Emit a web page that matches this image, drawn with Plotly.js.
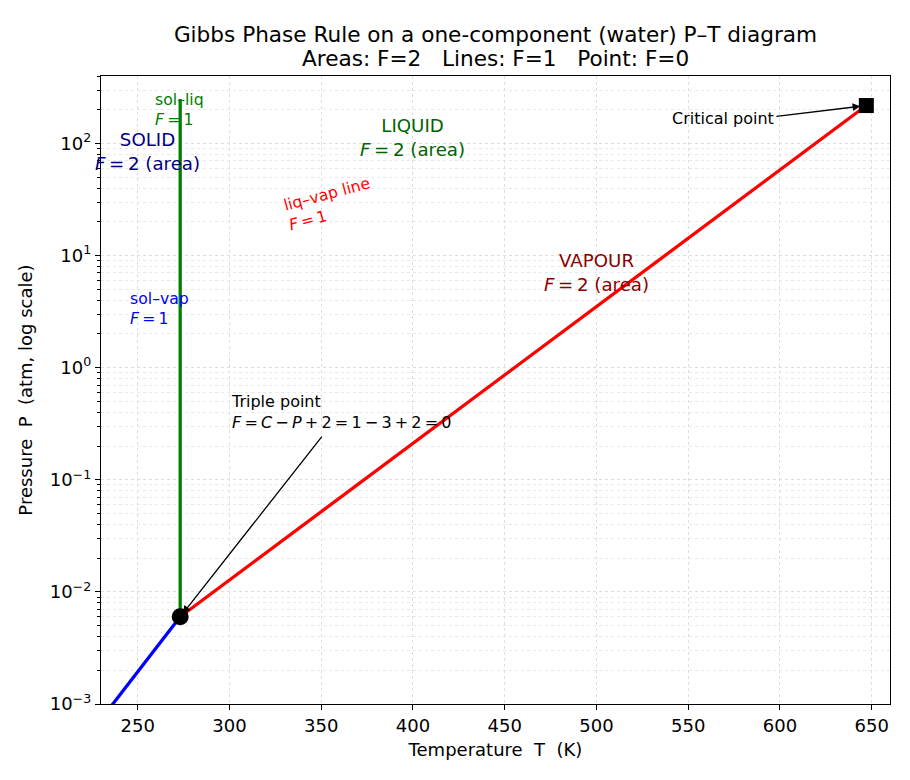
<!DOCTYPE html>
<html>
<head>
<meta charset="utf-8">
<script src="https://cdn.plot.ly/plotly-3.0.1.min.js"></script>
<style>html,body{margin:0;padding:0;background:#fff;}#chart{width:910px;height:780px;}</style>
</head>
<body>
<div id="chart"></div>
<script>
// ---- data ----
const solVapT = [230, 273.16];
const solVapP = [0.00073, 0.006];
const solLiqT = [273.16, 273.16];
const solLiqP = [0.006, 250];
const liqVapT = [273.16, 647.1];
const liqVapP = [0.006, 218];
const tripleT = [273.16];
const tripleP = [0.006];
const criticalT = [647.1];
const criticalP = [218];
const xTickVals = [250, 300, 350, 400, 450, 500, 550, 600, 650];
const yTickVals = [0.001, 0.01, 0.1, 1, 10, 100];
const yTickText = ['10<sup>\u22123</sup>', '10<sup>\u22122</sup>', '10<sup>\u22121</sup>', '10<sup>0</sup>', '10<sup>1</sup>', '10<sup>2</sup>'];

const FONT = 'DejaVu Sans, sans-serif';
const lg = Math.log10;
const S = '\u2009'; // thin space, like mathtext spacing

const traces = [
  {x: solVapT, y: solVapP, mode: 'lines', line: {color: '#0000ff', width: 3.3}, hoverinfo: 'skip'},
  {x: solLiqT, y: solLiqP, mode: 'lines', line: {color: '#008000', width: 3.3}, hoverinfo: 'skip'},
  {x: liqVapT, y: liqVapP, mode: 'lines', line: {color: '#ff0000', width: 3.3}, hoverinfo: 'skip'},
  {x: tripleT, y: tripleP, mode: 'markers', marker: {color: '#000', size: 17, symbol: 'circle'}, hoverinfo: 'skip'},
  {x: criticalT, y: criticalP, mode: 'markers', marker: {color: '#000', size: 15, symbol: 'square'}, hoverinfo: 'skip'}
];

function txt(x, y, text, color, size, extra) {
  return Object.assign({x: x, y: y, xref: 'x', yref: 'y', text: text, showarrow: false,
    font: {family: FONT, size: size, color: color}, xanchor: 'center', yanchor: 'middle', align: 'center'}, extra || {});
}
const F = (v) => '<i>F</i>' + S + '=' + S + v;

const annotations = [
  txt(258.3, 2.303, 'sol\u2013liq<br>' + F('1'), '#008000', 15.7, {xanchor: 'left', align: 'left'}),
  txt(255.1, 1.929, 'SOLID<br>' + F('2') + ' (area)', '#000080', 18.2),
  txt(400.0, 2.053, 'LIQUID<br>' + F('2') + ' (area)', '#006400', 18.2),
  txt(500.3, 0.850, 'VAPOUR<br>' + F('2') + ' (area)', '#8b0000', 18.2),
  txt(244.7, 0.525, 'sol\u2013vap<br>' + F('1'), '#0000ff', 15.7, {xanchor: 'left', align: 'left'}),
  txt(354.8, 1.465, 'liq\u2013vap line<br>' + F('1'), '#ff0000', 15.7, {align: 'left', textangle: -15}),
  txt(299.8, -0.397, 'Triple point<br><i>F</i>' + S + '=' + S + '<i>C</i>' + S + '\u2212' + S + '<i>P</i>' + S + '+' + S + '2' + S + '=' + S + '1' + S + '\u2212' + S + '3' + S + '+' + S + '2' + S + '=' + S + '0', '#000', 16, {xanchor: 'left', align: 'left'}),
  txt(540.1, 2.223, 'Critical point', '#000', 16, {xanchor: 'left', align: 'left'}),
  // second title line (paper coords are relative to the plot area: 101..890 x, 76..704 y)
  {x: 0.5, y: (704 - 59) / (704 - 76), xref: 'paper', yref: 'paper', yanchor: 'middle', xanchor: 'center', showarrow: false,
   text: 'Areas: F=2 \u00a0 Lines: F=1 \u00a0 Point: F=0', font: {family: FONT, size: 21.6, color: '#000'}},
  // arrows
  {x: tripleT[0], y: lg(tripleP[0]), xref: 'x', yref: 'y', ax: 351.0, ay: -0.602, axref: 'x', ayref: 'y',
   text: '', showarrow: true, arrowhead: 2, arrowsize: 1.2, arrowwidth: 1.3, arrowcolor: '#000', standoff: 4},
  {x: criticalT[0], y: lg(criticalP[0]), xref: 'x', yref: 'y', ax: 597.3, ay: 2.241, axref: 'x', ayref: 'y',
   text: '', showarrow: true, arrowhead: 2, arrowsize: 1.2, arrowwidth: 1.3, arrowcolor: '#000', standoff: 6}
];

const layout = {
  width: 910, height: 780,
  paper_bgcolor: '#fff', plot_bgcolor: '#fff',
  margin: {l: 101, r: 20, t: 76, b: 76},
  showlegend: false,
  font: {family: FONT, color: '#000'},
  title: {text: 'Gibbs Phase Rule on a one-component (water) P\u2013T diagram',
          font: {family: FONT, size: 21.6, color: '#000'}, x: 0.5445, xanchor: 'center', y: 1 - 34 / 780, yanchor: 'middle'},
  xaxis: {
    range: [230, 660], tickvals: xTickVals, ticks: 'outside', ticklen: 5, tickwidth: 1, tickcolor: '#000',
    showline: true, linecolor: '#000', linewidth: 1.2, mirror: true, zeroline: false,
    showgrid: true, gridcolor: '#dedede', griddash: 'dot', gridwidth: 1,
    tickfont: {family: FONT, size: 18, color: '#000'},
    title: {text: 'Temperature \u00a0T \u00a0(K)', font: {family: FONT, size: 18, color: '#000'}, standoff: 8}
  },
  yaxis: {
    type: 'log', range: [-3, Math.log10(400)], tickvals: yTickVals, ticktext: yTickText,
    ticks: 'outside', ticklen: 5, tickwidth: 1, tickcolor: '#000',
    showline: true, linecolor: '#000', linewidth: 1.2, mirror: true, zeroline: false,
    showgrid: true, gridcolor: '#dedede', griddash: 'dot', gridwidth: 1,
    minor: {dtick: 'D1', ticks: 'outside', ticklen: 3, tickcolor: '#000', showgrid: true, gridcolor: '#e8e8e8', griddash: 'dot', gridwidth: 1},
    tickfont: {family: FONT, size: 18, color: '#000'},
    title: {text: 'Pressure \u00a0P \u00a0(atm, log scale)', font: {family: FONT, size: 18, color: '#000'}, standoff: 12}
  },
  annotations: annotations
};

Plotly.newPlot('chart', traces, layout, {displayModeBar: false, staticPlot: true});
</script>
</body>
</html>
